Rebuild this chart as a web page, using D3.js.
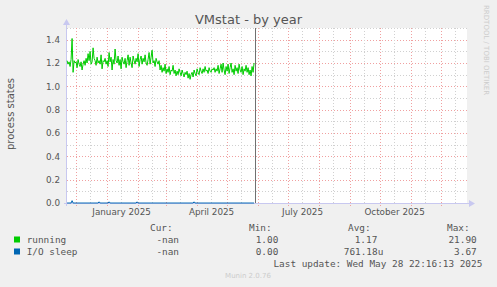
<!DOCTYPE html>
<html><head><meta charset="utf-8">
<script src="https://cdn.jsdelivr.net/npm/d3@7"></script>
<style>
html,body{margin:0;padding:0;background:#f0f0f0;}
svg{display:block;}
text{font-family:"DejaVu Sans",sans-serif;}
.mono{font-family:"DejaVu Sans Mono",monospace;}
</style></head>
<body>
<svg id="c" width="497" height="287"></svg>
<script>
// ---- data ----
const title = "VMstat - by year";
const yLabel = "process states";
const seriesNames = ["running", "I/O sleep"];
const seriesColors = ["#00cc00", "#0066b3"];
const firstDay = "2024-11-22";
const running = [
 1.22,1.19,1.21,1.17,1.23,1.41,1.12,1.22,1.20,1.21,
 1.16,1.23,1.19,1.17,1.21,1.14,1.19,1.22,1.18,1.24,
 1.20,1.28,1.22,1.30,1.19,1.21,1.33,1.24,1.22,1.18,
 1.25,1.20,1.22,1.19,1.27,1.15,1.22,1.21,1.24,1.19,
 1.22,1.17,1.29,1.21,1.25,1.14,1.23,1.19,1.32,1.22,
 1.20,1.26,1.18,1.23,1.15,1.25,1.21,1.19,1.24,1.16,
 1.22,1.27,1.18,1.25,1.20,1.16,1.26,1.22,1.19,1.24,
 1.21,1.28,1.17,1.23,1.26,1.19,1.24,1.21,1.27,1.20,
 1.18,1.23,1.29,1.19,1.25,1.31,1.20,1.22,1.17,1.24,
 1.21,1.19,1.22,1.14,1.18,1.12,1.16,1.13,1.19,1.11,
 1.15,1.12,1.17,1.10,1.14,1.13,1.18,1.11,1.14,1.09,
 1.13,1.10,1.15,1.12,1.09,1.14,1.11,1.08,1.12,1.10,
 1.13,1.07,1.11,1.06,1.10,1.12,1.08,1.14,1.11,1.09,
 1.15,1.12,1.10,1.16,1.13,1.11,1.15,1.12,1.17,1.13,
 1.14,1.11,1.16,1.13,1.12,1.15,1.14,1.16,1.12,1.15,
 1.13,1.18,1.11,1.15,1.19,1.12,1.20,1.14,1.10,1.17,
 1.13,1.19,1.11,1.16,1.20,1.12,1.15,1.10,1.18,1.13,
 1.16,1.11,1.19,1.14,1.12,1.17,1.10,1.15,1.13,1.18,
 1.12,1.16,1.10,1.14,1.09,1.17,1.12,1.20
];
// I/O sleep: near zero with a few small blips
const ioSleep = running.map(() => 0);
const ioBlips = [[5,0.02],[32,0.01],[42,0.01],[70,0.01],[127,0.01]];
ioBlips.forEach(([i,v]) => ioSleep[i] = v);
const yTicks = [0.0,0.2,0.4,0.6,0.8,1.0,1.2,1.4];
const xLabels = [["2025-01-16","January 2025"],["2025-04-16","April 2025"],["2025-07-16","July 2025"],["2025-10-16","October 2025"]];
const legendHeader = ["Cur:","Min:","Avg:","Max:"];
const legendValues = [["-nan","1.00","1.17","21.90"],["-nan","0.00","761.18u","3.67"]];
const lastUpdate = "Last update: Wed May 28 22:16:13 2025";
const nowDate = "2025-05-28T22:16:13Z";
const domainStart = "2024-11-22T10:00:00Z";
const domainEnd = "2025-12-27T10:00:00Z";

// ---- drawing ----
const svg = d3.select("#c");
const L = 67, R = 467, T = 28, B = 203;
const x = d3.scaleUtc().domain([new Date(domainStart), new Date(domainEnd)]).range([L, R]);
const y = d3.scaleLinear().domain([0, 1.5]).range([B, T]);
const day0 = new Date(firstDay + "T12:00:00Z");
const dateAt = i => d3.utcDay.offset(day0, i);

svg.append("rect").attr("x", L).attr("y", T).attr("width", R - L).attr("height", B - T).attr("fill", "#fff");

// horizontal grid
const g = svg.append("g").attr("shape-rendering", "crispEdges");
d3.range(1, 16).forEach(k => {
  const v = k / 10;
  const major = k % 2 === 0;
  g.append("line").attr("x1", L).attr("x2", R).attr("y1", Math.round(y(v)) + 0.5).attr("y2", Math.round(y(v)) + 0.5)
    .attr("stroke", major ? "#f0a0a0" : "#d0d0d0").attr("stroke-width", 1).attr("stroke-dasharray", "1,2");
});
// vertical grid: month starts (major) and mid-month (minor)
const months = d3.utcMonth.range(new Date(domainStart), new Date(domainEnd));
months.forEach(m => {
  const xm = Math.round(x(m)) + 0.5;
  if (xm > L && xm < R) g.append("line").attr("x1", xm).attr("x2", xm).attr("y1", T).attr("y2", B + 3)
    .attr("stroke", "#f0a0a0").attr("stroke-dasharray", "1,2");
});
d3.utcMonth.range(d3.utcMonth.offset(new Date(domainStart), -1), new Date(domainEnd)).forEach(m => {
  const mid = d3.utcDay.offset(m, 14);
  const xm = Math.round(x(mid)) + 0.5;
  if (xm > L && xm < R) g.append("line").attr("x1", xm).attr("x2", xm).attr("y1", T).attr("y2", B)
    .attr("stroke", "#d0d0d0").attr("stroke-dasharray", "1,2");
});

// axes (rrdtool style)
const axc = "#c8c8f0";
svg.append("line").attr("x1", L - 0.5).attr("x2", L - 0.5).attr("y1", T - 4).attr("y2", B + 3).attr("stroke", axc);
svg.append("path").attr("d", `M${L-4},${T-3} L${L-0.5},${T-9} L${L+3},${T-3} Z`).attr("fill", axc);
svg.append("line").attr("x1", L - 3).attr("x2", R + 3).attr("y1", B + 0.5).attr("y2", B + 0.5).attr("stroke", axc);
svg.append("path").attr("d", `M${R+2},${B-3} L${R+8},${B+0.5} L${R+2},${B+4} Z`).attr("fill", axc);

// y tick labels
yTicks.forEach(v => {
  svg.append("text").attr("x", 60).attr("y", y(v) + 3.2).attr("text-anchor", "end")
    .attr("font-size", "8.8px").attr("fill", "#555").text(v.toFixed(1));
});
// x labels
xLabels.forEach(([d, t]) => {
  svg.append("text").attr("x", x(new Date(d + "T00:00:00Z"))).attr("y", 215).attr("text-anchor", "middle")
    .attr("font-size", "8.8px").attr("fill", "#555").text(t);
});

// series
const line = d3.line().x((d, i) => x(dateAt(i))).y(d => y(d));
svg.append("path").datum(ioSleep).attr("d", line).attr("fill", "none").attr("stroke", seriesColors[1]).attr("stroke-width", 1);
svg.append("path").datum(running).attr("d", line).attr("fill", "none").attr("stroke", seriesColors[0]).attr("stroke-width", 1);

// now line
const xn = Math.round(x(new Date(nowDate))) + 0.5;
svg.append("line").attr("x1", xn).attr("x2", xn).attr("y1", T).attr("y2", B).attr("stroke", "#707070")
  .attr("stroke-width", 1).attr("shape-rendering", "crispEdges");

// title
svg.append("text").attr("x", 248.5).attr("y", 24).attr("text-anchor", "middle").attr("font-size", "13px").attr("fill", "#555").text(title);
// y axis title
svg.append("text").attr("transform", "translate(14,114) rotate(-90)").attr("text-anchor", "middle")
  .attr("font-size", "10px").attr("fill", "#555").text(yLabel);
// watermark
svg.append("text").attr("transform", "translate(484,5) rotate(90)").attr("text-anchor", "start")
  .attr("font-size", "7px").attr("fill", "#ccc").text("RRDTOOL / TOBI OETIKER");

// legend
const colEnds = [179, 278.3, 377.3, 476.7];
const hdrX = [150, 249, 348, 447];
legendHeader.forEach((h, i) => {
  svg.append("text").attr("class", "mono").attr("x", hdrX[i]).attr("y", 231).attr("font-size", "9.4px").attr("fill", "#555").text(h);
});
seriesNames.forEach((n, r) => {
  const by = 243 + r * 12;
  svg.append("rect").attr("x", 14).attr("y", by - 6.5).attr("width", 6).attr("height", 6).attr("fill", seriesColors[r]);
  svg.append("text").attr("class", "mono").attr("x", 26.7).attr("y", by).attr("font-size", "9.4px").attr("fill", "#555").text(n);
  legendValues[r].forEach((v, i) => {
    const endX = colEnds[i] + (/[a-z]$/.test(v) && v !== "-nan" ? 6 : 0);
    svg.append("text").attr("class", "mono").attr("x", endX).attr("y", by).attr("text-anchor", "end")
      .attr("font-size", "9.4px").attr("fill", "#555").text(v);
  });
});
svg.append("text").attr("class", "mono").attr("x", 482.3).attr("y", 267).attr("text-anchor", "end")
  .attr("font-size", "9.4px").attr("fill", "#555").text(lastUpdate);
svg.append("text").attr("x", 248).attr("y", 278).attr("text-anchor", "middle").attr("font-size", "7px").attr("fill", "#ccc").text("Munin 2.0.76");
</script>
</body></html>
